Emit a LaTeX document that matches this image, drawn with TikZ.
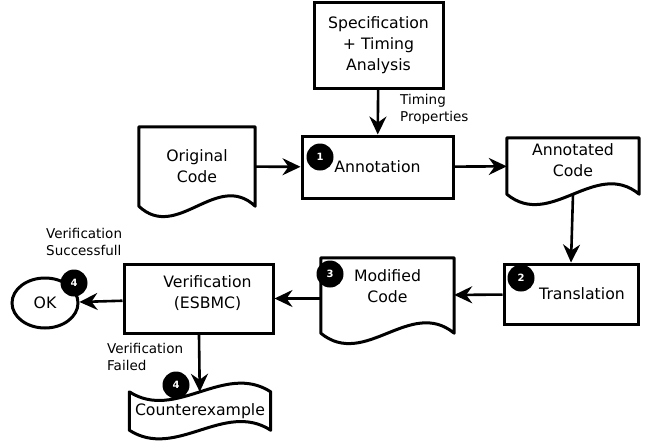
\documentclass[tikz,border=0pt]{standalone}
\usepackage{fontspec}
\setmainfont{DejaVu Sans}
\usetikzlibrary{arrows.meta,calc,shapes.geometric}

\newcommand{\docline}[1]{%
  \draw[line width=3pt, line join=round] (#1.south west) -- (#1.north west) -- (#1.north east) -- (#1.south east)
    .. controls ($(#1.south west)!0.67!(#1.south east)+(0,-36)$) and ($(#1.south west)!0.33!(#1.south east)+(0,36)$) .. cycle;}
\newcommand{\tapeline}[1]{%
  \draw[line width=3pt, line join=round] (#1.north west)
    .. controls ($(#1.north west)!0.33!(#1.north east)+(0,30)$) and ($(#1.north west)!0.67!(#1.north east)+(0,-30)$) .. (#1.north east)
    -- (#1.south east)
    .. controls ($(#1.south west)!0.67!(#1.south east)+(0,-30)$) and ($(#1.south west)!0.33!(#1.south east)+(0,30)$) .. (#1.south west) -- cycle;}

\begin{document}
\begin{tikzpicture}[x=1pt,y=-1pt,
  box/.style={draw, line width=3pt, fill=white, align=center, inner sep=0pt, font=\fontsize{15.7}{21}\selectfont},
  doc/.style={align=center, inner sep=0pt, font=\fontsize{15.7}{21}\selectfont},
  num/.style={circle, fill=black, text=white, inner sep=0pt, minimum size=27pt, font=\fontsize{10}{10}\selectfont\bfseries},
  lbl/.style={anchor=north west, align=left, inner sep=0pt, font=\fontsize{13.5}{17}\selectfont},
  arr/.style={-{Stealth[length=18pt,width=17pt,inset=6pt]}, line width=2.6pt}]
  \useasboundingbox (0,0) rectangle (651,442);

  \node[box, minimum width=129pt, minimum height=86pt] (spec) at (378.5,45) {Specification\\+ Timing\\Analysis};
  \node[box, minimum width=151pt, minimum height=62pt] (annot) at (377.5,167) {Annotation};
  \node[box, minimum width=134pt, minimum height=60pt] (trans) at (571,294) {\hspace*{22pt}Translation};
  \node[box, minimum width=149pt, minimum height=69pt, text depth=12pt] (verif) at (198.5,298.5)
    {\hspace*{18pt}Verification\\\hspace*{18pt}(ESBMC)};
  \node[draw, ellipse, line width=3pt, minimum width=66pt, minimum height=50pt, inner sep=0pt,
    font=\fontsize{15.7}{21}\selectfont] (ok) at (45,303) {OK};

  \node[doc, minimum width=116pt, minimum height=79pt] (orig) at (197,166.5) {Original\\Code};
  \node[doc, minimum width=132pt, minimum height=56pt, text depth=12pt] (annotd) at (573,166) {Annotated\\Code};
  \node[doc, minimum width=133pt, minimum height=75pt, text depth=18pt] (mod) at (387.5,295.5) {Modified\\Code};
  \node[doc, minimum width=141pt, minimum height=38pt] (ce) at (200,411) {Counterexample};
  \docline{orig}
  \docline{annotd}
  \docline{mod}
  \tapeline{ce}

  \draw[arr] (spec) -- (annot);
  \draw[arr] (orig) -- (annot);
  \draw[arr] (annot) -- (annotd);
  \draw[arr] (annotd.south) -- (trans.north);
  \draw[arr] (trans) -- (mod);
  \draw[arr] (mod.west |- verif.east) -- (verif.east);
  \draw[arr] (verif) -- (ok);
  \draw[arr] (verif) -- (ce);

  \node[num] (n1) at (320,157) {1};
  \node[num] (n2) at (521,278) {2};
  \node[num] (n3) at (330,274) {3};
  \node[num] (n4) at (74,283) {4};
  \node[num] (n5) at (176,385) {4};

  \node[lbl] (tp) at (400,94) {Timing\\Properties};
  \node[lbl] (vs) at (46,228) {Verification\\Successfull};
  \node[lbl] (vf) at (107,343) {Verification\\Failed};
\end{tikzpicture}
\end{document}
